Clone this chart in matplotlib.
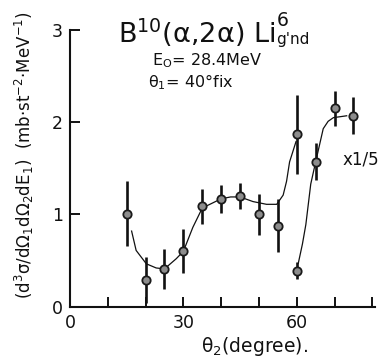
import matplotlib
matplotlib.use("Agg")
import matplotlib.pyplot as plt

plt.rcParams['mathtext.fontset'] = 'dejavusans'
plt.rcParams['font.family'] = ['DejaVu Sans']

# angular correlation, theta_1 fixed at 40 deg
theta_main = [15, 20, 25, 30, 35, 40, 45, 50, 55, 60]
sigma_main = [1.01, 0.29, 0.41, 0.60, 1.09, 1.17, 1.20, 1.00, 0.88, 1.87]
err_main = [0.35, 0.25, 0.22, 0.24, 0.19, 0.15, 0.14, 0.22, 0.29, 0.43]

# points plotted at 1/5 scale
theta_scaled = [60, 65, 70, 75]
sigma_scaled = [0.39, 1.57, 2.15, 2.07]
err_scaled = [0.09, 0.20, 0.19, 0.20]

# hand-drawn guide curves
curve1_x = [16.3, 17.5, 20.2, 22.8, 25.0, 28.1, 30.0, 32.5, 35.0, 37.0, 40.0,
            42.5, 45.0, 48.4, 52.0, 54.7, 56.4, 57.3, 58.1, 59.8]
curve1_y = [0.82, 0.61, 0.465, 0.42, 0.41, 0.52, 0.60, 0.86, 1.07, 1.11, 1.17,
            1.19, 1.19, 1.14, 1.11, 1.11, 1.21, 1.36, 1.57, 1.79]
curve2_x = [60.4, 61.5, 62.4, 63.7, 65.0, 66.0, 67.0, 68.3, 69.7, 71.5, 73.2]
curve2_y = [0.47, 0.68, 0.89, 1.33, 1.57, 1.75, 1.93, 2.01, 2.05, 2.06, 2.07]

W, H = 382, 359
INK = '#111111'
fig = plt.figure(figsize=(W / 100, H / 100), dpi=100)
ax = fig.add_axes([70 / W, 1 - 306.7 / H, 305 / W, (306.7 - 30) / H])

ax.plot(curve1_x, curve1_y, color=INK, lw=0.9)
ax.plot(curve2_x, curve2_y, color=INK, lw=0.9)

for xs, ys, es in [(theta_main, sigma_main, err_main),
                   (theta_scaled, sigma_scaled, err_scaled)]:
    ax.errorbar(xs, ys, yerr=es, fmt='o', color=INK, elinewidth=1.9,
                capsize=0, markersize=6, markerfacecolor='#8c8c8c',
                markeredgecolor='#1a1a1a', markeredgewidth=1.3, zorder=3)

ax.set_xlim(0, 80.7)
ax.set_ylim(0, 3)
ax.spines['top'].set_visible(False)
ax.spines['right'].set_visible(False)
for s in ('left', 'bottom'):
    ax.spines[s].set_linewidth(1.5)
    ax.spines[s].set_color(INK)

ax.set_xticks(range(0, 81, 10))
ax.set_xticklabels(['0', '', '', '30', '', '', '60', '', ''])
ax.set_yticks([0, 1, 2, 3])
ax.set_yticklabels(['0', '1', '2', '3'])
ax.tick_params(axis='both', direction='in', length=7.5, width=1.4,
               labelsize=12.5, colors=INK)
ax.tick_params(axis='x', pad=5)
ax.tick_params(axis='y', pad=5)

# reaction label: mass number and ground-state tag stacked after "Li"
title = fig.text(118 / W, 1 - 43 / H, r"B$^{10}$(α,2α) Li",
                 fontsize=19.5, color=INK, va='baseline', ha='left')
fig.canvas.draw()
x_end = title.get_window_extent().x1 + 1
fig.text(x_end / W, 1 - 26 / H, "6",
         fontsize=13.5, color=INK, va='baseline', ha='left')
fig.text(x_end / W, 1 - 44 / H, "g'nd",
         fontsize=11, color=INK, va='baseline', ha='left')

fig.text(152 / W, 1 - 65 / H, r"E$_\mathrm{O}$= 28.4MeV",
         fontsize=11.5, color=INK, va='baseline', ha='left')
fig.text(148 / W, 1 - 87 / H, r"θ$_1$= 40°fix",
         fontsize=11.5, color=INK, va='baseline', ha='left')
fig.text(343 / W, 1 - 160 / H, "x1/5",
         fontsize=12, color=INK, va='center', ha='left')

fig.text(255 / W, 1 - 347 / H, r"θ$_2$(degree).",
         fontsize=13.5, color=INK, va='center', ha='center')
fig.text(24 / W, 1 - 155 / H,
         r"(d$^3$σ/dΩ$_1$dΩ$_2$dE$_1$)  (mb·st$^{-2}$·MeV$^{-1}$)",
         fontsize=12, color=INK, va='center', ha='center', rotation=90)

fig.savefig('out.png', dpi=100)
